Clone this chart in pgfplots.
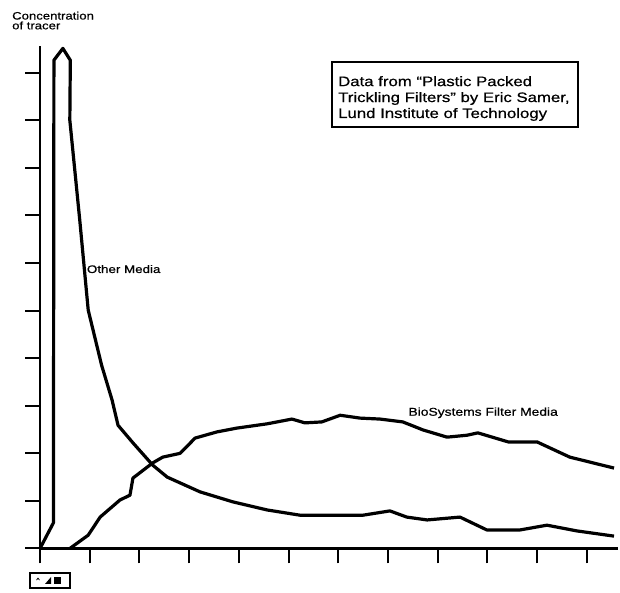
\documentclass[border=0pt]{standalone}
\usepackage{fontspec}
\setmainfont{Liberation Sans}[FakeStretch=1.22, FakeBold=0.6]
\usepackage{pgfplots}
\pgfplotsset{compat=1.18}
\begin{document}
\begin{tikzpicture}[x=1bp,y=1bp]
\path[use as bounding box] (0,0) rectangle (620,593);
\begin{axis}[
  scale only axis, width=578bp, height=502.5bp,
  at={(40bp,44.5bp)}, anchor=south west,
  xmin=0, xmax=11.63, ymin=0, ymax=10.56,
  axis lines=left,
  axis line style={-, line width=2.2bp, black},
  xtick={0,...,11}, ytick={0,...,10},
  xticklabels={}, yticklabels={},
  tick align=outside, major tick length=15bp, tickwidth=15bp,
  tick style={line width=2bp, black},
  clip=false,
]
\addplot[black, line width=3.2bp, line join=round] coordinates {
(0,0) (0.27,0.54) (0.28,10.26) (0.46,10.51) (0.61,10.26) (0.60,9.0)
(0.80,6.9) (0.97,5.01) (1.24,3.85) (1.45,3.12) (1.57,2.59) (1.87,2.22)
(2.27,1.75) (2.56,1.50) (3.22,1.19) (3.88,0.98) (4.57,0.81) (5.23,0.70)
(6.50,0.70) (7.04,0.79) (7.38,0.66) (7.79,0.60) (8.45,0.66) (8.99,0.39)
(9.66,0.39) (10.20,0.49) (10.80,0.37) (11.55,0.26)
};
\addplot[black, line width=3.2bp, line join=round] coordinates {
(0.60,0) (0.97,0.28) (1.21,0.66) (1.61,1.02) (1.81,1.12) (1.87,1.48)
(2.27,1.80) (2.47,1.92) (2.82,2.00) (3.12,2.32) (3.56,2.45) (3.96,2.53)
(4.57,2.62) (5.07,2.72) (5.33,2.64) (5.67,2.66) (6.04,2.80) (6.44,2.74)
(6.84,2.72) (7.30,2.66) (7.71,2.49) (8.19,2.34) (8.59,2.38) (8.81,2.43)
(9.42,2.24) (10.00,2.24) (10.66,1.92) (11.55,1.69)
};
\node[anchor=base west, inner sep=0pt, font=\fontsize{11}{11}\selectfont] at (axis cs:0.94,5.79) {Other Media};
\node[anchor=base west, inner sep=0pt, font=\fontsize{11.4}{11.4}\selectfont] at (axis cs:7.41,2.79) {BioSystems Filter Media};
\end{axis}
% annotation box
\draw[line width=1.8bp] (332,531) rectangle (578,466);
\node[anchor=base west, inner sep=0pt, align=left, font=\fontsize{13.8}{16}\selectfont] at (338,475)
  {Data from ``Plastic Packed\\Trickling Filters'' by Eric Samer,\\Lund Institute of Technology};
% y axis title
\node[anchor=base west, inner sep=0pt, align=left, font=\fontsize{10.8}{9.8}\selectfont] at (12,563.7)
  {Concentration\\of tracer};
% small icon box under axis
\draw[line width=1.2bp] (30,5) rectangle (70,20);
\node[inner sep=0pt, font=\fontsize{6}{6}\selectfont] at (38,13) {\textasciicircum};
\fill (45,9) -- (51,9) -- (51,16) -- cycle;
\fill (54,9) rectangle (61,16);
\end{tikzpicture}
\end{document}
